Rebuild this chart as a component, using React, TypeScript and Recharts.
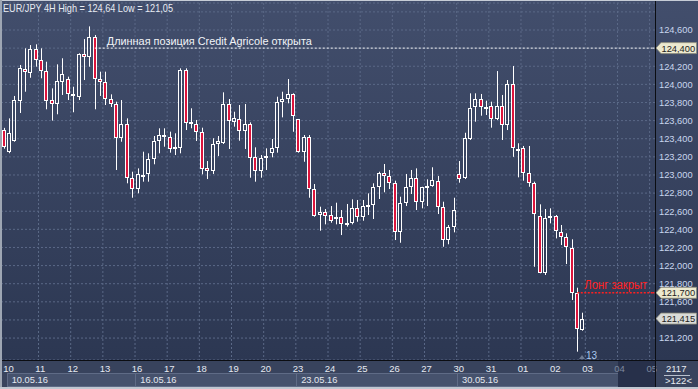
import React from 'react';
import { ComposedChart, Bar, XAxis, YAxis, CartesianGrid, ReferenceLine } from 'recharts';

if (typeof document !== 'undefined') document.body.style.margin = '0';

const FONT = '"Liberation Sans", Arial, sans-serif';
const W = 698;
const H = 389;
const PLOT_LEFT = 1;
const PLOT_RIGHT = 655;
const AXIS_Y = 360;
const SLOTS = 122;
const SLOT = (PLOT_RIGHT - PLOT_LEFT) / SLOTS;

// 4H candles, EUR/JPY, 10.05.16 .. 03.06.16
const opens = [
	123.496, 123.25, 123.378, 123.82, 124.166, 124.129, 124.387, 124.269, 124.147, 123.827,
	123.78, 124.03, 124.059, 123.894, 123.864, 124.332, 124.299, 124.52, 124.059, 124.023,
	123.835, 123.78, 123.411, 123.559, 122.963, 122.842, 122.99, 123.01, 123.176, 123.378,
	123.441, 123.416, 123.29, 123.294, 124.158, 123.581, 123.562, 123.477, 123.073, 123.047,
	123.342, 123.356, 123.783, 123.588, 123.614, 123.489, 123.559, 123.195, 123.047, 123.184,
	123.239, 123.294, 123.802, 123.835, 123.89, 123.614, 123.257, 123.416, 122.842, 122.558,
	122.588, 122.558, 122.51, 122.533, 122.46, 122.466, 122.632, 122.533, 122.65, 122.668,
	122.864, 123.018, 122.992, 122.908, 122.374, 122.694, 122.87, 122.963, 122.705, 122.853,
	122.881, 122.933, 122.643, 122.282, 122.422, 123.007, 122.963, 123.394, 123.747, 123.835,
	123.755, 123.764, 123.614, 123.761, 123.551, 124.0, 123.283, 123.294, 123.018, 122.908,
	122.547, 121.915, 122.522, 122.547, 122.374, 122.318, 122.19, 121.7, 121.289,
];
const highs = [
	123.52, 123.625, 123.872, 124.214, 124.398, 124.434, 124.442, 124.398, 124.25, 123.956,
	124.221, 124.288, 124.085, 123.974, 124.343, 124.5, 124.64, 124.545, 124.14, 124.14,
	123.89, 123.809, 123.827, 123.625, 123.036, 123.073, 123.257, 123.239, 123.43, 123.515,
	123.515, 123.478, 123.46, 124.177, 124.177, 123.736, 123.607, 123.522, 123.154, 123.405,
	123.43, 123.912, 123.838, 123.698, 123.772, 123.783, 123.581, 123.305, 123.22, 123.294,
	123.397, 123.864, 123.919, 124.059, 123.901, 123.618, 123.441, 123.441, 122.9, 122.65,
	122.624, 122.657, 122.694, 122.613, 122.68, 122.731, 122.724, 122.724, 122.797, 122.908,
	123.036, 123.121, 123.055, 122.937, 122.76, 123.011, 123.055, 123.073, 122.87, 122.952,
	123.085, 122.989, 122.705, 122.448, 122.749, 123.154, 123.466, 123.901, 123.901, 123.894,
	123.82, 123.809, 124.147, 123.883, 124.048, 124.203, 123.35, 123.32, 123.32, 122.926,
	122.676, 122.624, 122.632, 122.558, 122.448, 122.356, 122.29, 121.756, 121.48,
];
const lows = [
	123.29, 123.24, 123.367, 123.684, 123.919, 124.073, 124.195, 124.067, 123.725, 123.6,
	123.67, 123.883, 123.827, 123.692, 123.827, 124.048, 124.195, 123.725, 123.872, 123.772,
	123.75, 123.055, 123.367, 122.908, 122.749, 122.798, 122.926, 122.926, 123.118, 123.239,
	123.312, 123.246, 123.22, 123.239, 123.496, 123.515, 123.375, 123.007, 122.955, 123.011,
	123.209, 123.342, 123.287, 123.533, 123.378, 123.287, 122.97, 122.926, 122.97, 123.055,
	123.195, 123.246, 123.636, 123.791, 123.477, 123.246, 123.146, 122.749, 122.539, 122.385,
	122.455, 122.473, 122.455, 122.337, 122.43, 122.455, 122.484, 122.495, 122.558, 122.514,
	122.735, 122.809, 122.845, 122.282, 122.252, 122.657, 122.79, 122.613, 122.632, 122.657,
	122.87, 122.569, 122.208, 122.235, 122.367, 122.915, 122.955, 123.386, 123.588, 123.654,
	123.662, 123.522, 123.607, 123.386, 123.496, 123.2, 122.974, 122.937, 122.87, 121.987,
	121.915, 121.896, 122.466, 122.3, 122.227, 122.017, 121.62, 121.05, 121.281,
];
const closes = [
	123.309, 123.46, 123.827, 124.177, 124.133, 124.387, 124.269, 124.147, 123.816, 123.78,
	124.037, 124.114, 123.89, 123.871, 124.332, 124.299, 124.52, 124.056, 124.023, 123.838,
	123.783, 123.411, 123.559, 122.963, 122.845, 123.007, 123.0, 123.176, 123.378, 123.441,
	123.416, 123.287, 123.306, 124.158, 123.57, 123.559, 123.477, 123.066, 123.044, 123.338,
	123.375, 123.783, 123.596, 123.625, 123.489, 123.562, 123.19, 123.047, 123.19, 123.209,
	123.294, 123.802, 123.835, 123.89, 123.651, 123.257, 123.416, 122.842, 122.55, 122.588,
	122.55, 122.495, 122.533, 122.462, 122.47, 122.632, 122.533, 122.657, 122.668, 122.864,
	123.018, 122.989, 122.908, 122.374, 122.694, 122.87, 122.963, 122.705, 122.864, 122.878,
	122.944, 122.643, 122.282, 122.422, 122.613, 122.959, 123.405, 123.736, 123.835, 123.747,
	123.745, 123.614, 123.761, 123.551, 124.0, 123.294, 123.27, 123.018, 122.908, 122.566,
	121.921, 122.528, 122.547, 122.385, 122.318, 122.202, 121.7, 121.296, 121.415,
];

const dayLabels = ['10', '11', '12', '13', '16', '17', '18', '19', '20', '23', '24', '25', '26', '27', '30', '31', '01', '02', '03', '04', '05'];
const weekLabels = ['10.05.16', '16.05.16', '23.05.16', '30.05.16'];
const weekStartDays = [0, 4, 9, 14];
const BARS_PER_DAY = 6;

const priceTicks = [121.2, 121.4, 121.6, 121.8, 122.0, 122.2, 122.4, 122.6, 122.8, 123.0, 123.2, 123.4, 123.6, 123.8, 124.0, 124.2, 124.4, 124.6, 124.8];
const hiddenPriceTicks = [121.4, 124.4, 124.8];

const OPEN_LEVEL = 124.4;
const CLOSE_LEVEL = 121.7;
const LAST_PRICE = 121.415;
const OPEN_BAR = 17;
const CLOSE_BAR = 107;

const data = Array.from({ length: SLOTS }, (_, i) => ({
	i,
	o: i < opens.length ? opens[i] : null,
	h: i < highs.length ? highs[i] : null,
	l: i < lows.length ? lows[i] : null,
	c: i < closes.length ? closes[i] : null,
}));

const dayTicks = dayLabels.map((_, k) => k * BARS_PER_DAY);
const futureStart = Math.ceil(opens.length / BARS_PER_DAY) * BARS_PER_DAY;

const fmtPrice = (v: number) => v.toFixed(3).replace('.', ',');

const Candle = (props: any) => {
	const { x, y, width, height, payload } = props;
	if (!payload || payload.h == null) return null;
	const top = Math.min(y, y + height);
	const bottom = Math.max(y, y + height);
	const k = (bottom - top) / (payload.h - payload.l);
	const up = payload.c >= payload.o;
	const px = Math.round(x + width / 2);
	const bTop = Math.round(top + (payload.h - Math.max(payload.o, payload.c)) * k);
	let bBot = Math.round(top + (payload.h - Math.min(payload.o, payload.c)) * k);
	if (bBot - bTop < 2) bBot = bTop + 2;
	return (
		<g>
			<line x1={px + 0.5} x2={px + 0.5} y1={top} y2={bTop} stroke="#ffffff" />
			<line x1={px + 0.5} x2={px + 0.5} y1={bBot} y2={bottom} stroke="#ffffff" />
			<rect
				x={px - 1.5}
				y={bTop + 0.5}
				width={3}
				height={bBot - bTop - 1}
				fill={up ? 'none' : '#dc143c'}
				stroke="#ffffff"
				strokeWidth={1}
			/>
		</g>
	);
};

const PriceTag = ({ y, text, fill }: { y: number; text: string; fill: string }) => (
	<g>
		<polygon
			points={`${PLOT_RIGHT + 1},${y} ${PLOT_RIGHT + 6},${y - 5.5} ${W - 1.5},${y - 5.5} ${W - 1.5},${y + 5.5} ${PLOT_RIGHT + 6},${y + 5.5}`}
			fill={fill}
			stroke="#8d8b7a"
			strokeWidth={0.8}
		/>
		<text x={PLOT_RIGHT + 6.5} y={y + 3.4} fontSize={9.3} fontFamily={FONT} fill="#1d1d1d">
			{text}
		</text>
	</g>
);

const OpenLabel = (props: any) => {
	const { x, y, width } = props.viewBox;
	return (
		<g>
			<line x1={x + width} x2={PLOT_RIGHT} y1={y} y2={y} stroke="#ffffff" strokeDasharray="2 2" />
			<text x={x + 12} y={y - 3} fontSize={11} fontFamily={FONT} fill="#f2f4f8" textLength={205} lengthAdjust="spacingAndGlyphs">
				Длинная позиция Credit Agricole открыта
			</text>
			<PriceTag y={y} text={fmtPrice(OPEN_LEVEL)} fill="#ece9cf" />
		</g>
	);
};

const CloseLabel = (props: any) => {
	const { x, y, width } = props.viewBox;
	return (
		<g>
			<line x1={x + width} x2={PLOT_RIGHT} y1={y} y2={y} stroke="#ff2020" strokeWidth={1.5} strokeDasharray="2 1.5" />
			<text x={x + 7} y={y - 3.5} fontSize={12.5} fontFamily={FONT} fill="#ff1e1e" textLength={63} lengthAdjust="spacingAndGlyphs">
				Лонг закрыт
			</text>
			<PriceTag y={y} text={fmtPrice(CLOSE_LEVEL)} fill="#ece9cf" />
		</g>
	);
};

const LastLabel = (props: any) => <PriceTag y={props.viewBox.y} text={fmtPrice(LAST_PRICE)} fill="#d9dbd8" />;

const PriceTick = (props: any) => {
	const { x, y, payload } = props;
	if (hiddenPriceTicks.some((v) => Math.abs(v - payload.value) < 1e-6)) return null;
	return (
		<text x={x} y={y + 3.4} fontSize={9.3} fontFamily={FONT} fill="#c9d6ee" textAnchor="start">
			{fmtPrice(payload.value)}
		</text>
	);
};

const DayTick = (props: any) => {
	const { x, y, payload } = props;
	const idx = payload.value as number;
	const day = idx / BARS_PER_DAY;
	const future = idx >= futureStart;
	const w = weekStartDays.indexOf(day);
	let weekBox = null;
	if (w >= 0) {
		const nextDay = w + 1 < weekStartDays.length ? weekStartDays[w + 1] : futureStart / BARS_PER_DAY;
		const bw = (nextDay - day) * BARS_PER_DAY * SLOT;
		weekBox = (
			<g>
				<rect x={Math.round(x + 3) + 0.5} y={y + 13.5} width={Math.round(bw)} height={13} fill="#46526d" stroke="#5f6b86" />
				<text x={x + 8} y={y + 23} fontSize={9.3} fontFamily={FONT} fill="#e4e8f0">
					{weekLabels[w]}
				</text>
			</g>
		);
	}
	return (
		<g>
			{idx === futureStart ? (
				<rect x={Math.round(x + 3)} y={y + 1} width={PLOT_RIGHT - Math.round(x + 3)} height={26} fill="#27304a" />
			) : null}
			{weekBox}
			<text x={x - 0.5} y={y + 11.5} fontSize={9.5} fontFamily={FONT} fill={future ? '#7d889e' : '#e6eaf2'}>
				{dayLabels[day]}
			</text>
		</g>
	);
};

const gridX = ({ offset }: any) => {
	const s = offset.width / SLOTS;
	const out: number[] = [];
	for (let k = 7; k < SLOTS; k += BARS_PER_DAY) out.push(offset.left + k * s);
	return out;
};

export default function App() {
	return (
		<div
			style={{
				position: 'relative',
				width: W,
				height: H,
				overflow: 'hidden',
				background: 'linear-gradient(to bottom, #424e6c 0px, #2c3752 360px)',
			}}
		>
			<div style={{ position: 'absolute', left: 0, top: AXIS_Y, width: W, height: H - AXIS_Y, background: '#38435d' }} />
			<div style={{ position: 'absolute', left: 0, top: 0 }}>
				<ComposedChart width={W} height={H} data={data} margin={{ top: 3, right: 0, bottom: 0, left: PLOT_LEFT }}>
					<CartesianGrid stroke="#5b6987" strokeDasharray="2 2" verticalCoordinatesGenerator={gridX} />
					<XAxis
						dataKey="i"
						type="category"
						ticks={dayTicks}
						interval={0}
						height={H - AXIS_Y}
						axisLine={false}
						tickLine={false}
						tickSize={0}
						tickMargin={0}
						tick={<DayTick />}
					/>
					<YAxis
						orientation="right"
						width={W - PLOT_RIGHT}
						domain={[120.958, 124.898]}
						allowDataOverflow
						ticks={priceTicks}
						interval={0}
						axisLine={false}
						tickLine={false}
						tickSize={0}
						tickMargin={4}
						tick={<PriceTick />}
					/>
					<Bar
						dataKey={(d: any) => (d.h == null ? null : [d.l, d.h])}
						barSize={5}
						shape={<Candle />}
						isAnimationActive={false}
					/>
					<ReferenceLine
						segment={[{ x: OPEN_BAR, y: OPEN_LEVEL }, { x: SLOTS - 1, y: OPEN_LEVEL }]}
						stroke="#ffffff"
						strokeDasharray="2 2"
						label={(p: any) => <OpenLabel {...p} />}
					/>
					<ReferenceLine
						segment={[{ x: CLOSE_BAR, y: CLOSE_LEVEL }, { x: SLOTS - 1, y: CLOSE_LEVEL }]}
						stroke="#ff2020"
						strokeWidth={1.5}
						strokeDasharray="2 1.5"
						label={(p: any) => <CloseLabel {...p} />}
					/>
					<ReferenceLine y={LAST_PRICE} stroke="none" label={(p: any) => <LastLabel {...p} />} />
				</ComposedChart>
			</div>
			<svg width={W} height={H} style={{ position: 'absolute', left: 0, top: 0, pointerEvents: 'none' }}>
				<rect x={0} y={AXIS_Y} width={W} height={1} fill="#0b0d12" />
				<rect x={PLOT_RIGHT} y={0} width={1} height={H} fill="#0b0d12" />
				<rect x={0} y={0} width={W} height={1} fill="#c6ccd6" />
				<rect x={0} y={0} width={2} height={H} fill="#9ea6b3" />
				<rect x={0} y={H - 2} width={W} height={2} fill="#c0c7d1" />
				<text x={3} y={11.5} fontSize={10.5} fontFamily={FONT} fill="#e8ecf3" textLength={170} lengthAdjust="spacingAndGlyphs">
					EUR/JPY 4H High = 124,64 Low = 121,05
				</text>
				<polygon points="579,359 582,355 585,359" fill="#6f7b92" />
				<text x={586} y={359} fontSize={10} fontFamily={FONT} fill="#a9c8ee">
					13
				</text>
				<text x={666} y={371.5} fontSize={9.5} fontFamily={FONT} fill="#e8ecf2">
					2117
				</text>
				<rect x={664} y={375} width={26} height={1} fill="#b8c0cc" />
				<text x={665} y={384} fontSize={9.5} fontFamily={FONT} fill="#e8ecf2">
					&gt;122&lt;
				</text>
			</svg>
		</div>
	);
}
